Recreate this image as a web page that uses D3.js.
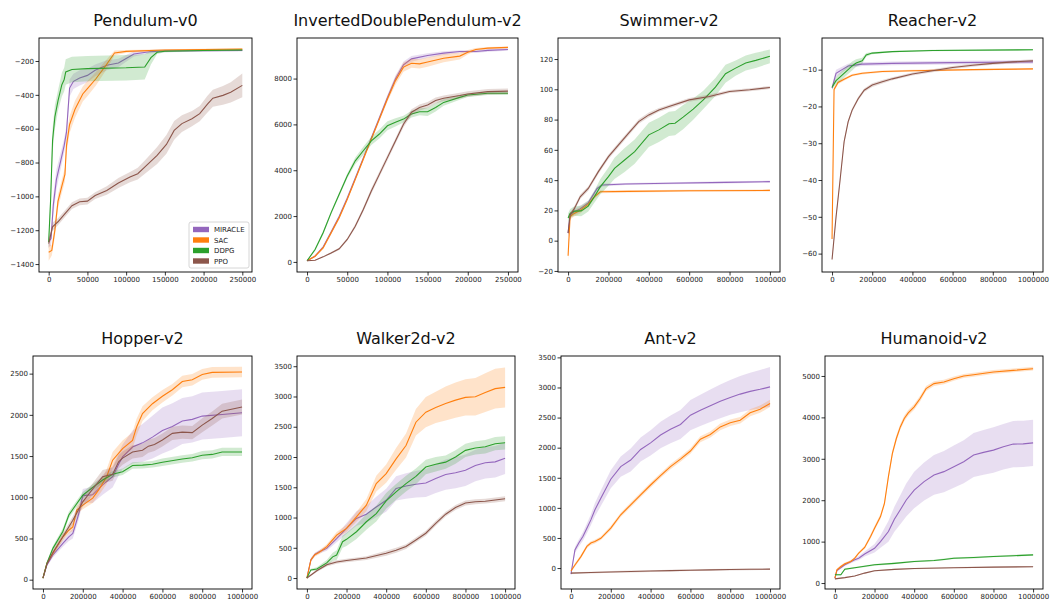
<!DOCTYPE html>
<html>
<head>
<meta charset="utf-8">
<script src="https://cdn.jsdelivr.net/npm/d3@7"></script>
<style>
  body { margin: 0; background: #fff; }
  svg { font-family: "DejaVu Sans", sans-serif; }
</style>
</head>
<body>
<svg id="chart" width="1052" height="604"></svg>
<script>
// each series point: [step, mean return, spread]
const algoNames = ["MIRACLE", "SAC", "DDPG", "PPO"];
const algoColors = ["#9467bd", "#ff7f0e", "#2ca02c", "#8c564b"];

const panelTitles = ["Pendulum-v0", "InvertedDoublePendulum-v2", "Swimmer-v2", "Reacher-v2",
                     "Hopper-v2", "Walker2d-v2", "Ant-v2", "Humanoid-v2"];

const shortXTicks = [0, 50000, 100000, 150000, 200000, 250000];
const longXTicks = [0, 200000, 400000, 600000, 800000, 1000000];
const pendYTicks = [-1400, -1200, -1000, -800, -600, -400, -200];
const idpYTicks = [0, 2000, 4000, 6000, 8000];
const swimYTicks = [-20, 0, 20, 40, 60, 80, 100, 120];
const reachYTicks = [-60, -50, -40, -30, -20, -10];
const hopYTicks = [0, 500, 1000, 1500, 2000, 2500];
const walkYTicks = [0, 500, 1000, 1500, 2000, 2500, 3000, 3500];
const antYTicks = [0, 500, 1000, 1500, 2000, 2500, 3000, 3500];
const humYTicks = [0, 1000, 2000, 3000, 4000, 5000];

const pendMiracle = [[0,-1270,30],[3000,-1250,40],[6000,-1050,60],[10000,-900,60],[15000,-800,50],[20000,-700,40],[23000,-620,40],[27000,-360,50],[32000,-320,45],[40000,-300,45],[50000,-285,40],[60000,-255,35],[75000,-225,30],[90000,-212,25],[100000,-185,20],[110000,-158,15],[130000,-145,10],[150000,-140,8],[200000,-139,6],[250000,-138,6]];
const pendSAC = [[0,-1330,50],[4000,-1320,30],[8000,-1200,40],[12000,-1030,40],[17000,-940,40],[21000,-870,40],[23000,-700,50],[27000,-575,50],[34000,-485,50],[44000,-395,45],[50000,-363,45],[61000,-305,40],[74000,-225,30],[85000,-153,15],[100000,-143,8],[150000,-135,5],[200000,-132,5],[250000,-130,5]];
const pendDDPG = [[0,-1270,40],[2500,-1020,60],[5000,-670,70],[8000,-530,70],[12000,-435,60],[17000,-340,70],[20000,-310,70],[22000,-265,75],[30000,-250,75],[50000,-245,75],[100000,-240,75],[124000,-235,75],[132000,-180,40],[140000,-148,10],[150000,-142,6],[200000,-138,5],[250000,-135,5]];
const pendPPO = [[0,-1280,30],[5000,-1180,25],[12000,-1150,20],[20000,-1108,20],[30000,-1055,20],[40000,-1032,20],[50000,-1028,20],[60000,-995,20],[75000,-965,25],[90000,-921,30],[105000,-886,30],[115000,-866,35],[125000,-823,40],[140000,-758,50],[152000,-693,55],[162000,-610,55],[172000,-570,50],[185000,-541,45],[195000,-511,45],[205000,-455,50],[212000,-420,50],[225000,-403,55],[235000,-385,60],[250000,-344,70]];

const idpMiracle = [[0,50,20],[10000,250,50],[20000,650,60],[30000,1300,80],[40000,1980,80],[50000,2780,80],[60000,3650,80],[70000,4530,80],[80000,5410,80],[90000,6280,100],[100000,7160,120],[110000,7985,150],[120000,8600,150],[130000,8860,130],[150000,9010,100],[170000,9110,80],[190000,9180,60],[210000,9180,60],[225000,9230,60],[250000,9270,60]];
const idpSAC = [[0,50,20],[10000,250,50],[20000,610,60],[30000,1270,80],[40000,1930,80],[50000,2730,80],[60000,3600,80],[70000,4480,80],[80000,5360,80],[90000,6230,100],[100000,7110,120],[110000,7910,180],[120000,8500,200],[130000,8670,200],[140000,8640,200],[150000,8720,200],[170000,8890,180],[190000,8980,150],[200000,9150,100],[210000,9270,60],[225000,9330,50],[250000,9360,40]];
const idpDDPG = [[0,50,20],[10000,540,60],[20000,1270,80],[30000,2150,80],[40000,2950,80],[50000,3750,100],[60000,4410,150],[70000,4850,180],[80000,5280,180],[90000,5580,200],[100000,5940,200],[110000,6090,180],[120000,6230,150],[130000,6450,150],[140000,6550,150],[150000,6550,180],[160000,6740,180],[170000,6960,150],[190000,7180,100],[200000,7280,80],[225000,7360,80],[250000,7360,80]];
const idpPPO = [[0,50,20],[10000,70,20],[20000,220,30],[30000,390,40],[40000,570,50],[50000,980,60],[60000,1560,80],[70000,2290,100],[80000,3090,120],[90000,3820,120],[100000,4550,120],[110000,5280,120],[120000,6010,130],[130000,6530,130],[140000,6740,130],[150000,6850,130],[160000,7040,130],[170000,7140,120],[190000,7260,120],[200000,7330,120],[225000,7430,120],[250000,7450,120]];

const swimMiracle = [[0,5,3],[10000,17,2],[30000,19,2],[60000,21,2],[100000,25,1.5],[144000,34.5,1.5],[170000,36.8,1],[284000,37.4,0.7],[500000,37.9,0.7],[780000,38.5,0.7],[1000000,39,0.7]];
const swimSAC = [[0,-10,4],[10000,16,2],[30000,18,2],[60000,20,2],[100000,24,1.5],[130000,29,1.5],[160000,32.3,1],[300000,32.6,0.7],[600000,33,0.7],[1000000,33.2,0.7]];
const swimDDPG = [[0,15,3],[10000,18,3],[30000,19.5,3],[65000,19.7,3.5],[100000,22.8,3.5],[130000,29,4],[160000,35.7,5],[200000,42.3,6],[230000,47.8,7],[280000,53.3,8],[330000,58.8,8],[400000,69.9,8],[450000,73.2,8],[500000,77.2,8],[530000,77.6,8],[570000,81.6,8],[620000,86.9,7],[670000,93,6],[730000,101.5,6],[780000,110.3,6],[830000,114,5],[880000,117.4,5],[930000,119.1,5],[1000000,121.8,4.5]];
const swimPPO = [[0,5,2],[10000,17,1.5],[30000,21,1.5],[60000,29,1.5],[100000,34.5,1.5],[150000,45.6,1.5],[200000,55.5,1.5],[250000,63.3,1.5],[300000,71,1.5],[350000,78.7,1.5],[400000,83.1,1.5],[450000,86.4,1.2],[500000,88.6,1.2],[600000,93,1.2],[700000,95.3,1.2],[800000,98.6,1],[900000,99.7,1],[1000000,101.2,1]];

const reachMiracle = [[0,-15,0.5],[10000,-13,1],[20000,-11,1],[50000,-10,0.8],[80000,-9,0.6],[150000,-8.5,0.5],[300000,-8.3,0.5],[600000,-8.1,0.5],[1000000,-7.9,0.5]];
const reachSAC = [[0,-56,1],[10000,-15.4,0.5],[30000,-13.5,0.5],[60000,-12.6,0.4],[100000,-11.5,0.3],[150000,-11,0.3],[250000,-10.5,0.3],[400000,-10.3,0.3],[700000,-10,0.2],[1000000,-9.8,0.2]];
const reachDDPG = [[0,-14.8,0.5],[20000,-13,1],[50000,-11.5,1.2],[80000,-10,1.2],[100000,-9,1.2],[120000,-8.2,1],[150000,-7.6,0.8],[170000,-6,0.5],[200000,-5.5,0.3],[300000,-5.1,0.2],[500000,-4.8,0.2],[1000000,-4.6,0.2]];
const reachPPO = [[0,-61.6,0.5],[20000,-50,0.8],[40000,-40,0.8],[60000,-29.6,0.8],[80000,-24.2,0.6],[100000,-21,0.5],[130000,-17.9,0.5],[160000,-15.6,0.5],[200000,-14.2,0.5],[250000,-13.3,0.5],[300000,-12.5,0.4],[400000,-11.2,0.4],[500000,-10.3,0.4],[600000,-9.4,0.4],[700000,-8.8,0.4],[800000,-8.3,0.4],[900000,-7.9,0.4],[1000000,-7.6,0.4]];

const hopMiracle = [[0,20,10],[20000,180,20],[50000,300,30],[100000,440,40],[130000,520,50],[150000,560,60],[180000,800,70],[200000,1020,80],[250000,1030,100],[300000,1150,120],[350000,1250,130],[380000,1400,140],[400000,1490,150],[450000,1610,200],[500000,1660,230],[550000,1730,260],[600000,1810,280],[650000,1860,280],[700000,1925,280],[750000,1945,280],[800000,1985,285],[900000,2005,285],[1000000,2025,285]];
const hopSAC = [[0,20,10],[20000,200,20],[50000,320,30],[100000,520,40],[130000,600,40],[150000,640,50],[170000,845,50],[200000,905,50],[250000,990,60],[280000,1090,70],[320000,1250,90],[350000,1450,100],[400000,1590,100],[450000,1690,100],[470000,1850,100],[500000,2015,90],[550000,2135,80],[600000,2225,75],[650000,2305,70],[700000,2405,70],[750000,2425,70],[800000,2490,65],[850000,2515,65],[1000000,2520,65]];
const hopDDPG = [[0,20,10],[20000,200,20],[50000,380,30],[100000,585,40],[130000,785,40],[150000,855,40],[200000,1025,40],[250000,1120,40],[300000,1210,40],[350000,1280,40],[400000,1310,40],[450000,1385,40],[500000,1390,40],[550000,1400,40],[600000,1425,45],[700000,1465,45],[750000,1480,45],[800000,1510,50],[850000,1520,50],[900000,1550,50],[1000000,1550,50]];
const hopPPO = [[0,20,10],[20000,190,20],[50000,330,30],[100000,520,40],[150000,720,50],[200000,945,60],[250000,1100,70],[300000,1250,80],[350000,1280,80],[380000,1430,80],[400000,1475,80],[450000,1550,80],[500000,1570,80],[530000,1620,80],[560000,1640,80],[600000,1695,80],[650000,1775,80],[700000,1790,80],[750000,1785,80],[800000,1875,85],[850000,1955,85],[900000,2045,90],[1000000,2095,90]];

const walkMiracle = [[0,0,10],[20000,300,30],[40000,390,30],[60000,430,30],[100000,490,40],[150000,650,60],[200000,820,90],[250000,985,120],[300000,1055,140],[350000,1175,170],[400000,1285,190],[450000,1480,200],[500000,1520,210],[550000,1550,220],[600000,1570,230],[650000,1645,240],[700000,1710,250],[750000,1740,255],[800000,1780,260],[850000,1860,260],[900000,1905,260],[950000,1920,260],[1000000,1980,260]];
const walkSAC = [[0,0,10],[20000,300,30],[40000,385,30],[60000,420,30],[100000,520,40],[150000,710,50],[200000,820,60],[250000,1010,80],[300000,1205,100],[350000,1560,130],[400000,1725,150],[450000,1970,180],[500000,2190,200],[550000,2575,220],[600000,2740,250],[650000,2820,260],[700000,2885,280],[750000,2940,290],[800000,2985,300],[850000,2995,310],[900000,3065,320],[950000,3130,330],[1000000,3150,330]];
const walkDDPG = [[0,0,10],[20000,135,20],[50000,150,30],[100000,250,50],[130000,350,70],[150000,380,80],[180000,600,100],[200000,640,110],[250000,765,120],[300000,930,130],[350000,1065,130],[400000,1275,130],[450000,1425,130],[500000,1560,130],[550000,1680,130],[600000,1835,120],[650000,1880,120],[700000,1915,110],[750000,2000,110],[800000,2110,110],[850000,2150,110],[900000,2170,110],[950000,2220,110],[1000000,2235,110]];
const walkPPO = [[0,0,10],[50000,120,20],[100000,220,30],[150000,265,30],[200000,290,30],[300000,330,30],[400000,410,40],[450000,460,40],[500000,520,40],[550000,630,40],[600000,740,40],[650000,905,40],[700000,1055,40],[750000,1165,40],[800000,1240,40],[850000,1260,40],[900000,1270,40],[950000,1290,40],[1000000,1310,40]];

const antMiracle = [[0,-100,20],[10000,100,40],[20000,300,50],[40000,420,60],[60000,525,70],[80000,660,80],[100000,800,90],[120000,965,110],[150000,1160,130],[200000,1475,150],[250000,1685,170],[300000,1795,190],[350000,1970,200],[400000,2080,210],[450000,2210,220],[500000,2305,230],[550000,2385,240],[600000,2540,250],[650000,2620,260],[700000,2695,270],[750000,2770,280],[800000,2835,290],[850000,2890,300],[900000,2935,310],[950000,2970,320],[1000000,3010,330]];
const antSAC = [[0,-50,20],[20000,50,30],[50000,190,30],[80000,360,30],[100000,415,30],[120000,440,30],[150000,495,30],[200000,665,35],[250000,885,35],[300000,1050,40],[350000,1215,40],[400000,1380,40],[450000,1535,40],[500000,1685,45],[550000,1810,45],[600000,1945,45],[650000,2140,50],[700000,2220,50],[750000,2345,55],[800000,2415,55],[850000,2455,55],[900000,2580,60],[950000,2640,60],[1000000,2735,60]];
const antPPO = [[0,-85,15],[100000,-75,15],[200000,-65,15],[300000,-57,15],[400000,-50,15],[500000,-43,15],[600000,-36,15],[700000,-30,15],[800000,-25,15],[900000,-21,15],[1000000,-18,15]];

const humMiracle = [[0,120,20],[10000,300,30],[50000,440,30],[100000,560,40],[120000,600,50],[150000,700,60],[200000,840,100],[230000,1000,150],[270000,1245,250],[300000,1540,300],[330000,1770,350],[360000,2005,400],[400000,2245,440],[450000,2450,460],[500000,2610,480],[550000,2690,500],[600000,2810,510],[650000,2930,520],[700000,3090,530],[750000,3155,540],[800000,3210,550],[850000,3290,550],[900000,3355,560],[950000,3360,560],[1000000,3385,560]];
const humSAC = [[0,120,20],[10000,320,30],[30000,400,30],[50000,465,30],[80000,520,30],[100000,600,30],[120000,720,30],[150000,860,40],[180000,1125,50],[200000,1325,50],[230000,1605,60],[250000,1925,60],[270000,2570,70],[290000,3130,70],[310000,3490,70],[330000,3770,70],[350000,3975,70],[370000,4110,70],[400000,4255,70],[430000,4455,70],[460000,4695,60],[500000,4815,60],[550000,4855,55],[600000,4935,50],[650000,5000,50],[700000,5030,50],[800000,5095,50],[900000,5135,45],[1000000,5175,45]];
const humDDPG = [[0,200,20],[30000,200,20],[50000,335,20],[100000,370,20],[200000,440,20],[300000,475,20],[400000,520,20],[500000,545,20],[550000,570,20],[600000,600,20],[700000,615,20],[800000,640,20],[900000,660,20],[1000000,680,20]];
const humPPO = [[0,100,15],[50000,130,15],[100000,170,15],[150000,240,15],[200000,295,15],[300000,330,15],[400000,350,15],[600000,370,15],[800000,385,15],[1000000,395,15]];

// layout: box = [left, top, right, bottom] in px
const panels = [
  { series: [pendMiracle, pendSAC, pendDDPG, pendPPO], xTicks: shortXTicks, yTicks: pendYTicks,
    box: [39, 38, 252, 272], xDom: [-12500, 262500], yDom: [-1447, -64], legend: true },
  { series: [idpMiracle, idpSAC, idpDDPG, idpPPO], xTicks: shortXTicks, yTicks: idpYTicks,
    box: [297, 38, 518, 272], xDom: [-12500, 262500], yDom: [-440, 9770] },
  { series: [swimMiracle, swimSAC, swimDDPG, swimPPO], xTicks: longXTicks, yTicks: swimYTicks,
    box: [558, 38, 780, 272], xDom: [-50000, 1050000], yDom: [-20.7, 133.9] },
  { series: [reachMiracle, reachSAC, reachDDPG, reachPPO], xTicks: longXTicks, yTicks: reachYTicks,
    box: [822, 38, 1043, 272], xDom: [-50000, 1050000], yDom: [-65, -1.4] },
  { series: [hopMiracle, hopSAC, hopDDPG, hopPPO], xTicks: longXTicks, yTicks: hopYTicks,
    box: [33, 356, 252, 589], xDom: [-50000, 1050000], yDom: [-113, 2714] },
  { series: [walkMiracle, walkSAC, walkDDPG, walkPPO], xTicks: longXTicks, yTicks: walkYTicks,
    box: [297, 356, 515, 589], xDom: [-50000, 1050000], yDom: [-181, 3669] },
  { series: [antMiracle, antSAC, null, antPPO], xTicks: longXTicks, yTicks: antYTicks,
    box: [561, 356, 780, 589], xDom: [-50000, 1050000], yDom: [-348, 3523] },
  { series: [humMiracle, humSAC, humDDPG, humPPO], xTicks: longXTicks, yTicks: humYTicks,
    box: [825, 356, 1043, 589], xDom: [-50000, 1050000], yDom: [-144, 5482] },
];

const svg = d3.select("#chart");
const fmt = d3.format("d");

panels.forEach((p, i) => {
  const [l, t, r, b] = p.box;
  const x = d3.scaleLinear().domain(p.xDom).range([l, r]);
  const y = d3.scaleLinear().domain(p.yDom).range([b, t]);
  const g = svg.append("g").attr("class", "panel" + i);

  svg.append("clipPath").attr("id", "clip" + i)
    .append("rect").attr("x", l).attr("y", t).attr("width", r - l).attr("height", b - t);
  const plot = g.append("g").attr("clip-path", `url(#clip${i})`);

  const area = d3.area()
    .x((d) => x(d[0]))
    .y0((d) => y(d[1] - d[2]))
    .y1((d) => y(d[1] + d[2]));
  const line = d3.line()
    .x((d) => x(d[0]))
    .y((d) => y(d[1]));

  p.series.forEach((s, k) => {
    if (!s) return;
    plot.append("path").datum(s)
      .attr("d", area)
      .attr("fill", algoColors[k])
      .attr("fill-opacity", 0.22);
    plot.append("path").datum(s)
      .attr("d", line)
      .attr("fill", "none")
      .attr("stroke", algoColors[k])
      .attr("stroke-width", 1.1);
  });

  g.append("g")
    .attr("class", "x-axis")
    .attr("transform", `translate(0,${b})`)
    .call(d3.axisBottom(x).tickValues(p.xTicks).tickSize(3.5).tickPadding(1.5).tickFormat(fmt));
  g.append("g")
    .attr("class", "y-axis")
    .attr("transform", `translate(${l},0)`)
    .call(d3.axisLeft(y).tickValues(p.yTicks).tickSize(3.5).tickPadding(1.5).tickFormat(fmt));

  g.selectAll(".domain").remove();
  g.selectAll(".tick line").attr("stroke", "#000").attr("stroke-width", 0.8);
  g.selectAll(".tick text")
    .attr("fill", "#222")
    .style("font-size", "7px")
    .style("font-family", '"DejaVu Sans", sans-serif');

  g.append("rect")
    .attr("x", l).attr("y", t)
    .attr("width", r - l).attr("height", b - t)
    .attr("fill", "none")
    .attr("stroke", "#000")
    .attr("stroke-width", 0.9);

  g.append("text")
    .attr("x", (l + r) / 2)
    .attr("y", t - 12)
    .attr("text-anchor", "middle")
    .attr("fill", "#111")
    .style("font-size", "16px")
    .text(panelTitles[i]);

  if (p.legend) {
    const lg = g.append("g").attr("transform", `translate(${r - 63},${b - 50})`);
    lg.append("rect")
      .attr("width", 60).attr("height", 46)
      .attr("rx", 2)
      .attr("fill", "#fff").attr("fill-opacity", 0.8)
      .attr("stroke", "#ccc").attr("stroke-width", 0.8);
    algoNames.forEach((name, k) => {
      const row = lg.append("g").attr("transform", `translate(4,${7.5 + k * 10.5})`);
      row.append("rect").attr("x", 0).attr("y", -2.7).attr("width", 16).attr("height", 5.4)
        .attr("fill", algoColors[k]);
      row.append("text").attr("x", 21).attr("y", 2.5)
        .attr("fill", "#222").style("font-size", "7px").text(name);
    });
  }
});
</script>
</body>
</html>
